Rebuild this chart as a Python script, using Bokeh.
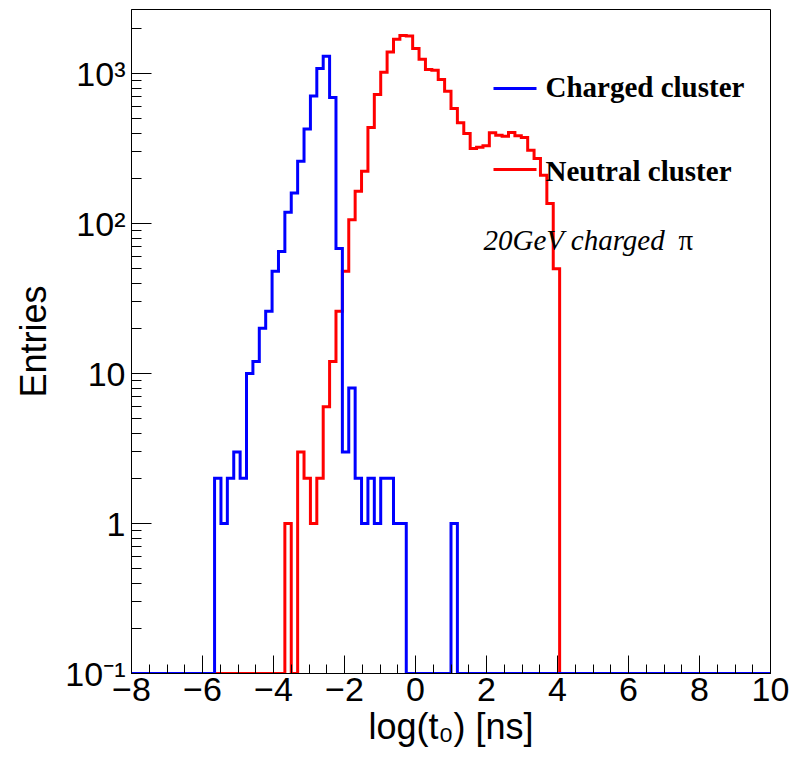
import numpy as np
from bokeh.plotting import figure
from bokeh.models import Range1d, FixedTicker, CustomJSTickFormatter, Label
from bokeh.embed import file_html
from bokeh.resources import INLINE

# ---- binning ----
x_min, x_max, n_bins = -8.0, 10.0, 100

# ---- data (entries per bin, 100 bins of width 0.18 from -8 to 10) ----
charged_cluster = ([0] * 13 +
                   [2, 1, 2, 3, 2, 10, 12, 20, 26, 48, 65, 119, 160, 260, 427,
                    709, 1080, 1304, 692, 68, 3, 8, 2, 1, 2, 1, 2, 2, 1, 1] +
                   [0] * 7 + [1] + [0] * 49)

neutral_cluster = ([0] * 24 + [1, 0] +
                   [3, 2, 1, 2, 6, 12, 26, 48, 106, 164, 223, 436, 724, 1020,
                    1393, 1690, 1790, 1780, 1468, 1245, 1064, 1050, 912, 762,
                    584, 470, 398, 316, 322, 330, 402, 388, 382, 404, 384, 374,
                    308, 271, 210, 136, 50] +
                   [0] * 33)

x_ticks = [-8, -6, -4, -2, 0, 2, 4, 6, 8, 10]
y_ticks = [0.1, 1, 10, 100, 1000]
y_tick_labels = {"0.1": "10\u207b\u00b9", "1": "1", "10": "10", "100": "10\u00b2", "1000": "10\u00b3"}

y_bottom, y_top = 0.1, 2671

# ---- figure geometry helpers (pixel -> data) for annotations ----
FL, FR, FT, FB = 131, 770, 9, 673
def px2x(px):
    return x_min + (px - FL) * (x_max - x_min) / (FR - FL)
def py2y(py):
    lt, lb = np.log10(y_top), np.log10(y_bottom)
    return 10 ** (lt - (py - FT) * (lt - lb) / (FB - FT))

p = figure(width=797, height=762, y_axis_type="log",
           x_range=Range1d(x_min, x_max), y_range=Range1d(y_bottom, y_top),
           output_backend="svg", toolbar_location=None,
           min_border_left=FL, min_border_right=797 - FR,
           min_border_top=FT, min_border_bottom=762 - FB)
p.background_fill_color = "white"
p.border_fill_color = "white"
p.outline_line_color = "black"
p.outline_line_width = 1
p.xgrid.visible = False
p.ygrid.visible = False

edges = np.linspace(x_min, x_max, n_bins + 1)

def step_xy(counts):
    xs, ys = [], []
    for i, c in enumerate(counts):
        v = max(c, y_bottom)
        xs += [edges[i], edges[i + 1]]
        ys += [v, v]
    return xs, ys

xs_n, ys_n = step_xy(neutral_cluster)
xs_c, ys_c = step_xy(charged_cluster)
p.line(xs_n, ys_n, line_color="#ff0000", line_width=3, line_join="miter")
p.line(xs_c, ys_c, line_color="#0000ff", line_width=3, line_join="miter")

# ---- axes ----
minor_x = [v for v in np.arange(x_min, x_max + 0.01, 0.5).tolist()]
p.xaxis.ticker = FixedTicker(ticks=x_ticks, minor_ticks=minor_x)
minor_y = []
for dec in [0.1, 1, 10, 100, 1000]:
    for k in range(1, 10):
        minor_y.append(dec * k)
p.yaxis.ticker = FixedTicker(ticks=y_ticks, minor_ticks=minor_y)
p.yaxis.formatter = CustomJSTickFormatter(
    args=dict(m=y_tick_labels),
    code="const k = String(tick); return (k in m) ? m[k] : '';")
p.xaxis.formatter = CustomJSTickFormatter(
    code="return tick < 0 ? '\u2212' + Math.abs(tick) : String(tick);")

for ax in (p.xaxis, p.yaxis):
    ax.axis_line_color = "black"
    ax.axis_line_width = 1
    ax.major_tick_line_color = "black"
    ax.minor_tick_line_color = "black"
    ax.major_tick_out = 0
    ax.minor_tick_out = 0
    ax.major_label_text_font = "Liberation Sans"
    ax.major_label_text_font_size = "34px"
    ax.major_label_text_color = "black"
    ax.axis_label_text_font = "Liberation Sans"
    ax.axis_label_text_font_size = "36px"
    ax.axis_label_text_font_style = "normal"
    ax.axis_label_text_color = "black"

p.xaxis.major_tick_in = 18
p.xaxis.minor_tick_in = 9
p.yaxis.major_tick_in = 20
p.yaxis.minor_tick_in = 10
p.xaxis.major_label_standoff = 4
p.xaxis.axis_label_standoff = 2
p.yaxis.major_label_standoff = 6
p.yaxis.axis_label_standoff = 8
p.xaxis.axis_label = "log(t\u2080) [ns]"
p.yaxis.axis_label = "Entries"

# ---- legend / annotations ----
p.line([px2x(493), px2x(536)], [py2y(88)] * 2, line_color="#0000ff", line_width=3)
p.line([px2x(493), px2x(536)], [py2y(169)] * 2, line_color="#ff0000", line_width=3)

def add_text(px, py, txt, style="bold"):
    p.add_layout(Label(x=px2x(px), y=py2y(py), text=txt,
                       text_font="Liberation Serif", text_font_size="29px",
                       text_font_style=style, text_color="black",
                       text_baseline="alphabetic", text_align="left"))

add_text(545, 86, "Charged cluster")
add_text(545, 170, "Neutral cluster")
add_text(483, 239, "20GeV charged", style="italic")
add_text(678, 239, "\u03c0", style="normal")

open("out.html", "w").write(file_html(p, INLINE))
